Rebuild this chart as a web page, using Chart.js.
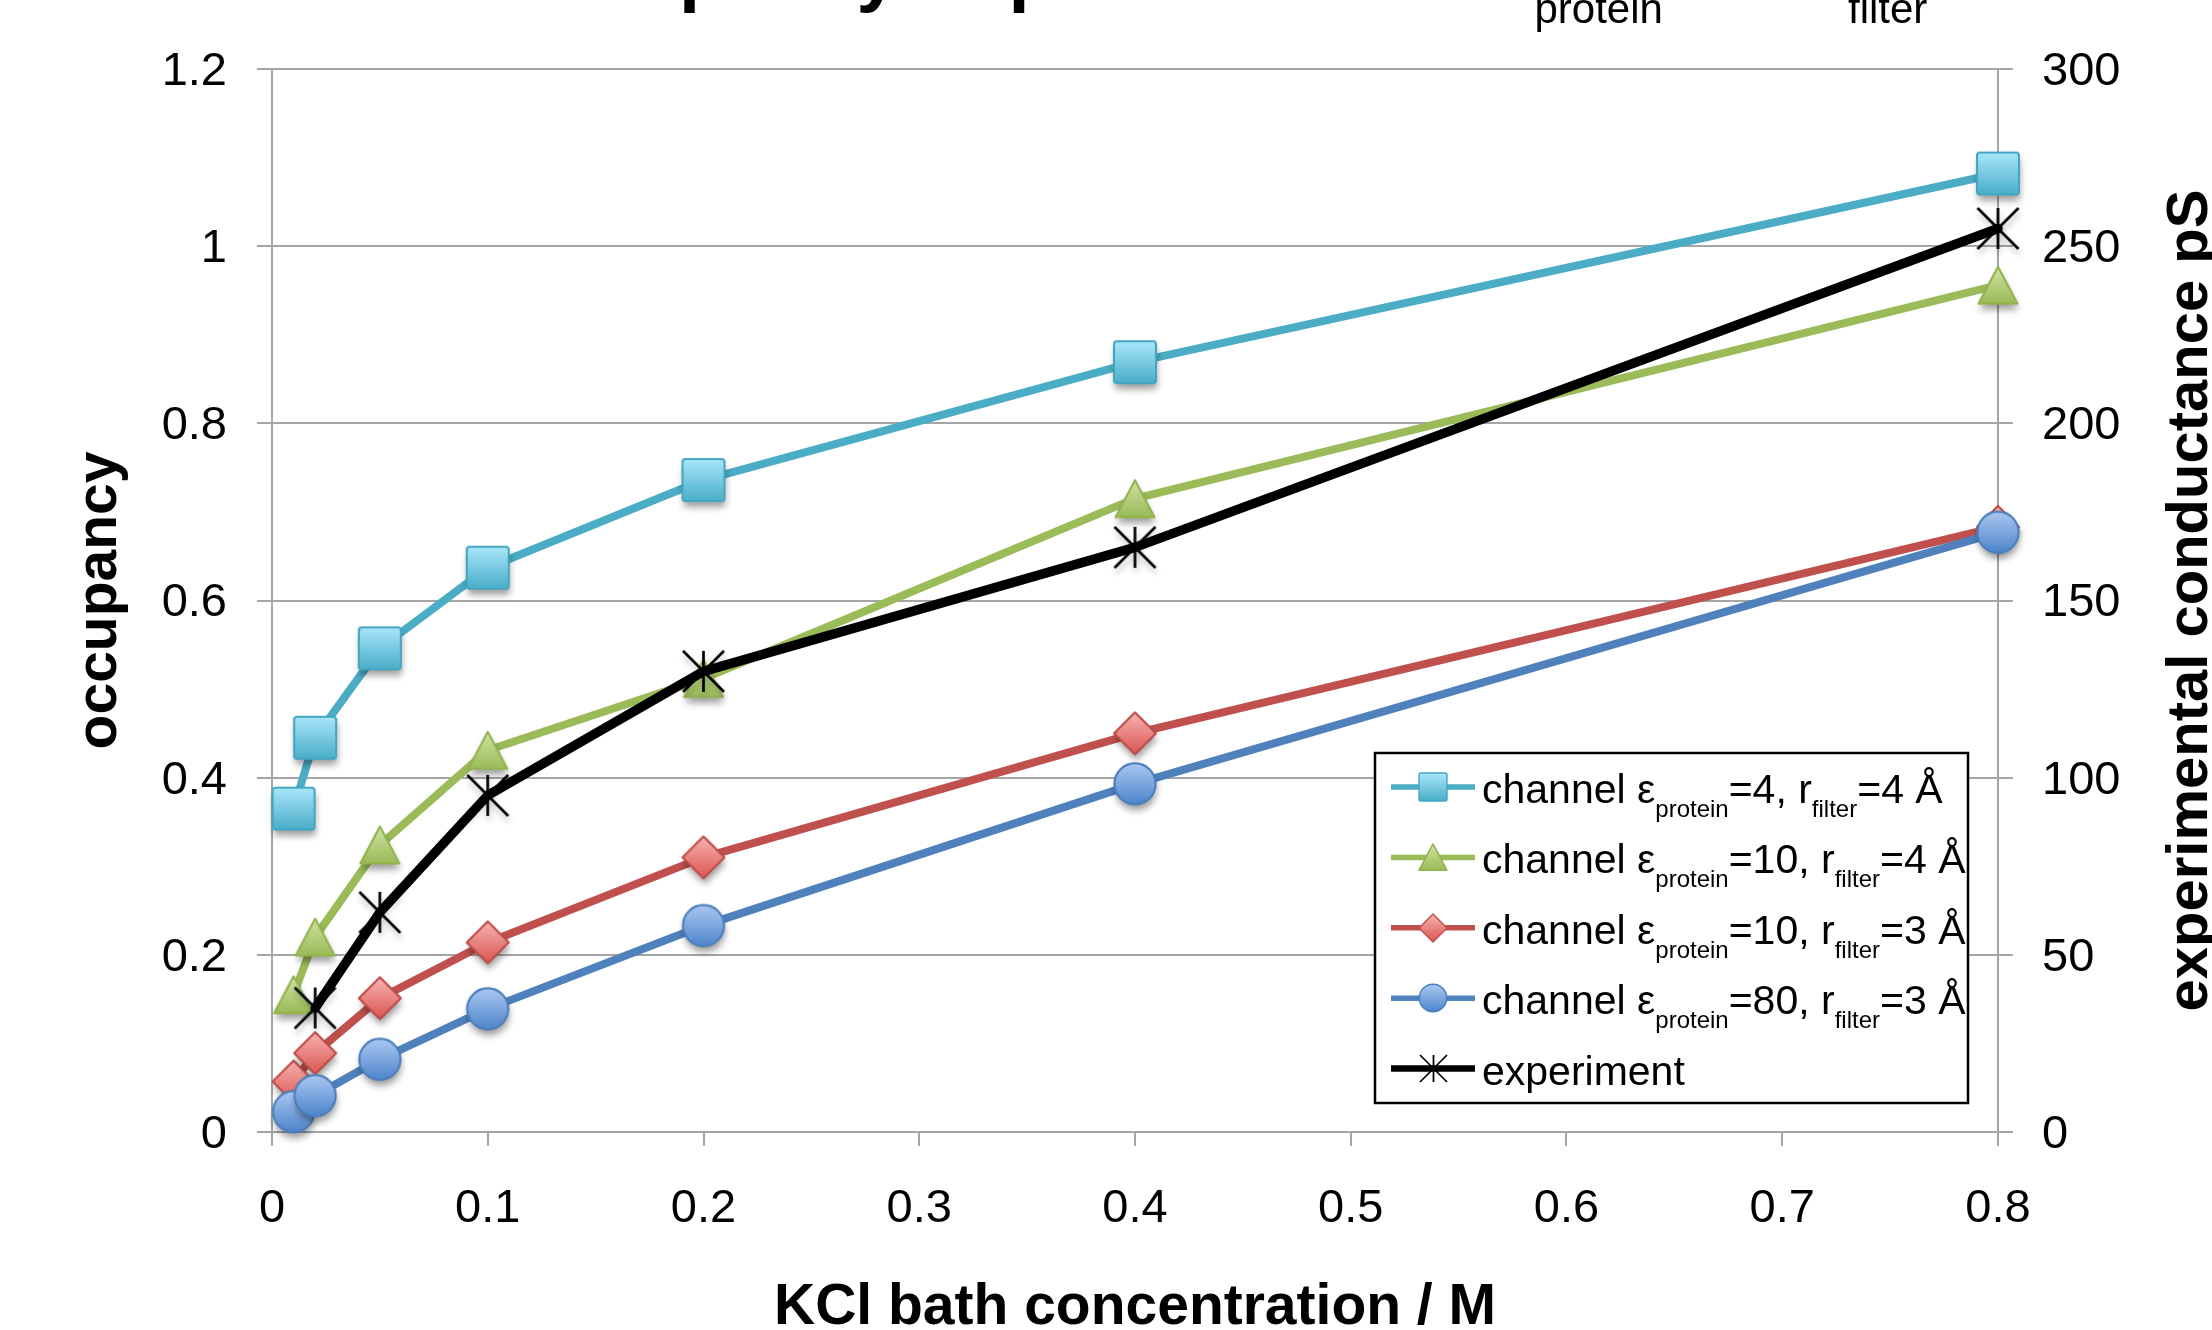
<!DOCTYPE html>
<html>
<head>
<meta charset="utf-8">
<script src="https://cdn.jsdelivr.net/npm/chart.js@4.4.1/dist/chart.umd.min.js"></script>
<style>
  html, body { margin: 0; padding: 0; background: #fff; overflow: hidden; }
  canvas { display: block; }
</style>
</head>
<body>
<canvas id="chart" width="2212" height="1330"></canvas>
<script>
// KCl bath concentration (M) for the simulated channels
const concentrations = [0.01, 0.02, 0.05, 0.1, 0.2, 0.4, 0.8];
// simulated filter occupancy per channel model
const occEps4R4   = [0.365, 0.445, 0.546, 0.637, 0.736, 0.869, 1.082];
const occEps10R4  = [0.155, 0.220, 0.324, 0.431, 0.512, 0.715, 0.956];
const occEps10R3  = [0.057, 0.089, 0.151, 0.214, 0.310, 0.450, 0.683];
const occEps80R3  = [0.023, 0.041, 0.082, 0.139, 0.233, 0.393, 0.677];
// measured conductance (pS)
const expConcentrations = [0.02, 0.05, 0.1, 0.2, 0.4, 0.8];
const expConductance    = [35, 62, 95, 130, 165, 255];

// tick labels
const xTickLabels    = ['0', '0.1', '0.2', '0.3', '0.4', '0.5', '0.6', '0.7', '0.8'];
const occTickLabels  = ['0', '0.2', '0.4', '0.6', '0.8', '1', '1.2'];
const condTickLabels = ['0', '50', '100', '150', '200', '250', '300'];

// legend texts: [text, isSubscript]
const labelEps4R4  = [['channel ε', 0], ['protein', 1], ['=4, r', 0], ['filter', 1], ['=4 Å', 0]];
const labelEps10R4 = [['channel ε', 0], ['protein', 1], ['=10, r', 0], ['filter', 1], ['=4 Å', 0]];
const labelEps10R3 = [['channel ε', 0], ['protein', 1], ['=10, r', 0], ['filter', 1], ['=3 Å', 0]];
const labelEps80R3 = [['channel ε', 0], ['protein', 1], ['=80, r', 0], ['filter', 1], ['=3 Å', 0]];
const labelExp     = [['experiment', 0]];

// chart title: [text, isSubscript]
const titleParts = [['Occupancy dependence on ε', 0], ['protein', 1], [' and r', 0], ['filter', 1]];

const FONT = "'Liberation Sans', Arial, Helvetica, sans-serif";
const GRID = '#a5a5a5';

// ---- marker sprites (gradient fill, soft drop shadow) ----
const styles = {
  square:   { top: '#aae6fa', bottom: '#49aec9', stroke: '#44a6c0' },
  triangle: { top: '#d2e6aa', bottom: '#97b852', stroke: '#93b34f' },
  diamond:  { top: '#f8b4b1', bottom: '#da5552', stroke: '#bd4b48' },
  circle:   { top: '#abc9f1', bottom: '#4d84cb', stroke: '#4a7ebb' },
  star:     { stroke: '#000' }
};

function shapePath(g, kind, cx, cy, s) {
  const h = s / 2;
  g.beginPath();
  if (kind === 'square') {
    const r = s * 0.07;
    g.moveTo(cx - h + r, cy - h);
    g.arcTo(cx + h, cy - h, cx + h, cy + h, r);
    g.arcTo(cx + h, cy + h, cx - h, cy + h, r);
    g.arcTo(cx - h, cy + h, cx - h, cy - h, r);
    g.arcTo(cx - h, cy - h, cx + h, cy - h, r);
    g.closePath();
  } else if (kind === 'triangle') {
    const w = s * 0.93, t = s * 0.88;
    g.moveTo(cx, cy - t / 2);
    g.lineTo(cx + w / 2, cy + t / 2);
    g.lineTo(cx - w / 2, cy + t / 2);
    g.closePath();
  } else if (kind === 'diamond') {
    g.moveTo(cx, cy - h);
    g.lineTo(cx + h, cy);
    g.lineTo(cx, cy + h);
    g.lineTo(cx - h, cy);
    g.closePath();
  } else if (kind === 'circle') {
    g.arc(cx, cy, h * 0.98, 0, Math.PI * 2);
  } else if (kind === 'star') {
    g.moveTo(cx, cy - h);       g.lineTo(cx, cy + h);
    g.moveTo(cx - h, cy - h);   g.lineTo(cx + h, cy + h);
    g.moveTo(cx + h, cy - h);   g.lineTo(cx - h, cy + h);
  }
}

function makeMarker(kind, s, shadow) {
  const pad = shadow ? 18 : 3;
  const W = Math.ceil(s + pad * 2);
  const c = document.createElement('canvas');
  c.width = W; c.height = W;
  const g = c.getContext('2d');
  const cx = W / 2, cy = W / 2;
  const st = styles[kind];
  g.lineJoin = 'round';
  if (kind === 'star') {
    g.strokeStyle = st.stroke;
    g.lineWidth = s * 0.065;
    if (shadow) {
      g.shadowColor = 'rgba(0,0,0,0.28)';
      g.shadowBlur = 6; g.shadowOffsetX = 1; g.shadowOffsetY = 5;
    }
    shapePath(g, kind, cx, cy, s);
    g.stroke();
    return c;
  }
  const grad = g.createLinearGradient(0, cy - s / 2, 0, cy + s / 2);
  grad.addColorStop(0, st.top);
  grad.addColorStop(1, st.bottom);
  if (shadow) {
    g.save();
    g.shadowColor = 'rgba(0,0,0,0.38)';
    g.shadowBlur = 7; g.shadowOffsetX = 1; g.shadowOffsetY = 6;
    shapePath(g, kind, cx, cy, s);
    g.fillStyle = grad;
    g.fill();
    g.restore();
  }
  shapePath(g, kind, cx, cy, s);
  g.fillStyle = grad;
  g.fill();
  g.lineWidth = s * 0.05;
  g.strokeStyle = st.stroke;
  g.stroke();
  return c;
}

const plotMarkers = {
  square: makeMarker('square', 42, true),
  triangle: makeMarker('triangle', 42, true),
  diamond: makeMarker('diamond', 42, true),
  circle: makeMarker('circle', 42, true),
  star: makeMarker('star', 41, true)
};
const legendMarkers = {
  square: makeMarker('square', 28, false),
  triangle: makeMarker('triangle', 30, false),
  diamond: makeMarker('diamond', 28, false),
  circle: makeMarker('circle', 28, false),
  star: makeMarker('star', 27, false)
};

const toPoints = (xs, ys) => xs.map((x, i) => ({ x: x, y: ys[i] }));

function seriesSet(label, xs, ys, color, marker, axis, order, width) {
  return {
    label: label,
    data: toPoints(xs, ys),
    yAxisID: axis,
    order: order,
    borderColor: color,
    backgroundColor: color,
    borderWidth: width,
    borderJoinStyle: 'round',
    borderCapStyle: 'round',
    tension: 0,
    pointStyle: plotMarkers[marker],
    pointRadius: 21,
    pointBorderWidth: 0,
    clip: false
  };
}

const datasets = [
  seriesSet('channel eps4 r4',  concentrations, occEps4R4,  '#4bacc6', 'square',   'y',  4, 8),
  seriesSet('channel eps10 r4', concentrations, occEps10R4, '#9bbb59', 'triangle', 'y',  3, 8),
  seriesSet('channel eps10 r3', concentrations, occEps10R3, '#c0504d', 'diamond',  'y',  2, 8),
  seriesSet('channel eps80 r3', concentrations, occEps80R3, '#4f81bd', 'circle',   'y',  1, 8),
  seriesSet('experiment', expConcentrations, expConductance, '#000000', 'star',    'y2', 0, 9.5)
];

const legendEntries = [
  { parts: labelEps4R4,  color: '#4bacc6', marker: 'square',   width: 5.5 },
  { parts: labelEps10R4, color: '#9bbb59', marker: 'triangle', width: 5.5 },
  { parts: labelEps10R3, color: '#c0504d', marker: 'diamond',  width: 5.5 },
  { parts: labelEps80R3, color: '#4f81bd', marker: 'circle',   width: 5.5 },
  { parts: labelExp,     color: '#000000', marker: 'star',     width: 6.5 }
];

function drawParts(ctx, parts, x, baseY, mainFont, subFont, subDrop, mainSpacing) {
  ctx.textAlign = 'left';
  ctx.textBaseline = 'alphabetic';
  for (const [text, sub] of parts) {
    ctx.font = sub ? subFont : mainFont;
    ctx.letterSpacing = (!sub && mainSpacing) ? mainSpacing + 'px' : '0px';
    ctx.fillText(text, x, baseY + (sub ? subDrop : 0));
    x += ctx.measureText(text).width;
  }
  ctx.letterSpacing = '0px';
  return x;
}

const decorations = {
  id: 'decorations',
  afterDraw(chart) {
    const ctx = chart.ctx;
    ctx.save();
    ctx.fillStyle = '#000';

    // chart title (runs past the top edge of the canvas)
    drawParts(ctx, titleParts.slice(0, 2), 489, -3, 'bold 76px ' + FONT, '42px ' + FONT, 26);
    ctx.font = 'bold 76px ' + FONT;
    ctx.fillText(titleParts[2][0], 1657, -3);
    ctx.font = '42px ' + FONT;
    ctx.fillText(titleParts[3][0], 1848, 23);

    // secondary axis title, reading bottom to top
    ctx.save();
    ctx.translate(2207, (chart.chartArea.top + chart.chartArea.bottom) / 2);
    ctx.rotate(-Math.PI / 2);
    ctx.font = 'bold 58px ' + FONT;
    ctx.textAlign = 'center';
    ctx.textBaseline = 'alphabetic';
    ctx.fillText('experimental conductance pS', 0, 0);
    ctx.restore();

    // legend box
    const bx = 1374, by = 752, bw = 595, bh = 352;
    ctx.fillStyle = '#fff';
    ctx.fillRect(bx, by, bw, bh);
    ctx.lineWidth = 2.5;
    ctx.strokeStyle = '#000';
    ctx.strokeRect(bx + 1, by + 1, bw - 2, bh - 2);

    ctx.save();
    ctx.beginPath();
    ctx.rect(bx + 2, by + 2, bw - 4, bh - 4);
    ctx.clip();
    legendEntries.forEach((e, i) => {
      const cy = 787 + i * 70.4;
      ctx.beginPath();
      ctx.moveTo(1391, cy);
      ctx.lineTo(1475, cy);
      ctx.strokeStyle = e.color;
      ctx.lineWidth = e.width;
      ctx.lineCap = 'butt';
      ctx.stroke();
      const m = legendMarkers[e.marker];
      ctx.drawImage(m, Math.round(1433 - m.width / 2), Math.round(cy - m.height / 2));
      ctx.fillStyle = '#000';
      drawParts(ctx, e.parts, 1482, cy + 16, '41px ' + FONT, '24px ' + FONT, 14);
    });
    ctx.restore();
    ctx.restore();
  }
};

Chart.defaults.font.family = FONT;
Chart.defaults.color = '#000';

new Chart(document.getElementById('chart'), {
  type: 'line',
  data: { datasets: datasets },
  plugins: [decorations],
  options: {
    responsive: false,
    devicePixelRatio: 1,
    animation: false,
    events: [],
    layout: { padding: { top: 69, left: 0, right: 0, bottom: 0 } },
    plugins: { legend: { display: false }, tooltip: { enabled: false }, title: { display: false } },
    scales: {
      x: {
        type: 'linear',
        min: 0, max: 0.8,
        afterFit: (s) => { s.height = 198; },
        ticks: {
          stepSize: 0.1,
          padding: 35,
          maxRotation: 0,
          font: { size: 47 },
          color: '#000',
          callback: (v) => xTickLabels[Math.round(v / 0.1)]
        },
        grid: { drawOnChartArea: false, drawTicks: true, tickLength: 14, color: GRID, lineWidth: 2 },
        border: { display: true, color: GRID, width: 2 },
        title: {
          display: true,
          text: 'KCl bath concentration / M',
          color: '#000',
          font: { size: 57, weight: 'bold', lineHeight: 1 },
          padding: { top: 0, bottom: -7 }
        }
      },
      y: {
        position: 'left',
        min: 0, max: 1.2,
        afterFit: (s) => { s.width = 272; },
        ticks: {
          stepSize: 0.2,
          padding: 30,
          labelOffset: 3,
          font: { size: 47 },
          color: '#000',
          callback: (v) => occTickLabels[Math.round(v / 0.2)]
        },
        grid: { drawOnChartArea: true, drawTicks: true, tickLength: 15, color: GRID, lineWidth: 2 },
        border: { display: true, color: GRID, width: 2 },
        title: {
          display: true,
          text: 'occupancy',
          color: '#000',
          font: { size: 57, weight: 'bold', lineHeight: 1 },
          padding: { top: 72, bottom: 0 }
        }
      },
      y2: {
        position: 'right',
        min: 0, max: 300,
        afterFit: (s) => { s.width = 214; },
        ticks: {
          stepSize: 50,
          padding: 29,
          labelOffset: 3,
          font: { size: 47 },
          color: '#000',
          callback: (v) => condTickLabels[Math.round(v / 50)]
        },
        grid: { drawOnChartArea: false, drawTicks: true, tickLength: 15, color: GRID, lineWidth: 2 },
        border: { display: true, color: GRID, width: 2 }
      }
    }
  }
});
</script>
</body>
</html>
